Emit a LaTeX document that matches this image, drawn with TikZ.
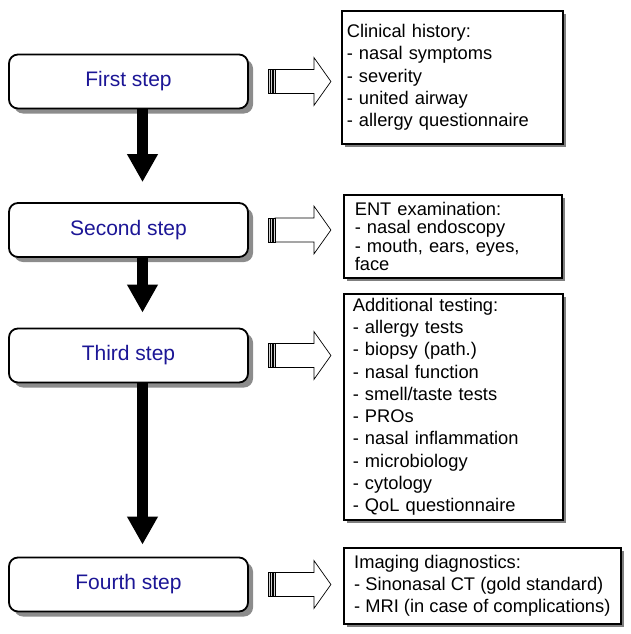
\documentclass[tikz,border=0pt]{standalone}
\usepackage{fontspec}
\setmainfont{Liberation Sans}
\usetikzlibrary{arrows.meta,shadows,calc}
\definecolor{stepblue}{RGB}{28,22,150}
\tikzset{
  stepbox/.style={draw=black, line width=1.8pt, rounded corners=9pt, fill=white,
    minimum width=239pt, minimum height=54pt, text=stepblue,
    font=\fontsize{21}{25}\selectfont,
    drop shadow={shadow xshift=5pt, shadow yshift=-5pt, opacity=0.45, fill=black}},
  infobox/.style={draw=black, line width=1.6pt, fill=white, anchor=north west,
    align=left, inner ysep=0pt, font=\fontsize{18.3}{22.3}\selectfont,
    drop shadow={shadow xshift=3pt, shadow yshift=-3pt, opacity=0.5, fill=black}},
  downarrow/.style={line width=11pt, -{Triangle[width=29pt,length=28pt]}},
  flowarrow/.pic={
    \draw[line width=0.7pt, fill=white] (7,-12) -- (46,-12) -- (46,-24) -- (63,0)
      -- (46,24) -- (46,12) -- (7,12) -- cycle;
    \foreach \s in {0,2.5,5}
      \draw[line width=0.6pt, fill=gray!35] (\s,-12) rectangle ++(2,24);
  }
}
\begin{document}
\begin{tikzpicture}[x=1pt,y=-1pt]
\useasboundingbox (0,0) rectangle (630,634);
% the four steps
\node[stepbox] (s1) at (128.5,81.5) {First step};
\node[stepbox] (s2) at (128.5,230) {Second step};
\node[stepbox] (s3) at (128.5,355.5) {Third step};
\node[stepbox] (s4) at (128.5,584.5) {Fourth step};
% what belongs to each step
\node[infobox, inner xsep=5pt, text width=211pt, minimum height=133pt] (c1) at (341,10)
  {Clinical history:\\- nasal symptoms\\- severity\\- united airway\\- allergy questionnaire};
\node[infobox, inner xsep=11pt, text width=196pt, minimum height=83pt,
  font=\fontsize{18.3}{18.5}\selectfont] (c2) at (343,194)
  {ENT examination:\\- nasal endoscopy\\- mouth, ears, eyes,\\face};
\node[infobox, inner xsep=9pt, text width=201pt, minimum height=226pt] (c3) at (343,293)
  {Additional testing:\\- allergy tests\\- biopsy (path.)\\- nasal function\\- smell/taste tests\\- PROs\\- nasal inflammation\\- microbiology\\- cytology\\- QoL questionnaire};
\node[infobox, inner xsep=4pt, minimum width=277pt, minimum height=76pt] (c4) at (343,547)
  {Imaging diagnostics:\\- Sinonasal CT (gold standard)\\- MRI (in case of complications)};
% arrows
\draw[downarrow] ($(s1.south)+(14,0)$) -- ($(s2.north)+(14,-20)$);
\draw[downarrow] ($(s2.south)+(14,0)$) -- ($(s3.north)+(14,-15)$);
\draw[downarrow] ($(s3.south)+(14,0)$) -- ($(s4.north)+(14,-12)$);
\foreach \n in {1,...,4}
  \path ($(s\n.east)+(19,0)$) pic {flowarrow};
\end{tikzpicture}
\end{document}
